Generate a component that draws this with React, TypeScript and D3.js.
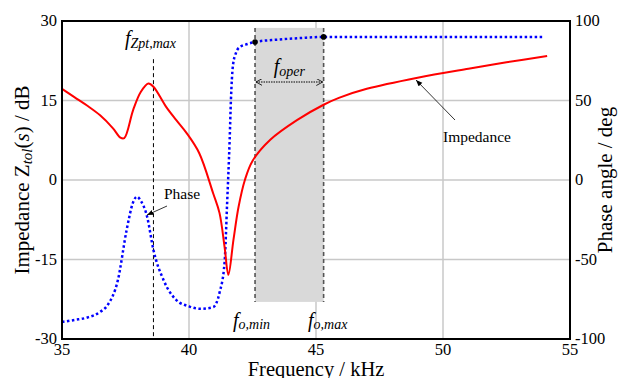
import React from "react";
import * as d3 from "d3";

const phaseFreq = [35, 35.5, 36, 36.5, 36.8, 37.2, 37.55, 37.8, 37.95, 38.1, 38.35, 38.6, 39.0, 39.5, 40.0, 40.43, 40.95, 41.2, 41.4, 41.5, 41.6, 41.65, 41.73, 41.85, 42.0, 42.3, 42.6, 43.5, 44.4, 45.3, 47, 50, 54];
const phaseDeg = [-89.3, -88, -86.5, -83, -78.6, -63, -31, -14, -10.5, -13, -23, -44, -63, -75.5, -79.5, -81, -80, -71, -52, -15, 25, 50, 72, 80, 83.6, 85.5, 86.8, 88.3, 89.3, 90, 90, 90, 90];

const impFreq = [35, 35.5, 36, 36.5, 37, 37.3, 37.45, 37.8, 38.1, 38.4, 38.6, 39.1, 39.5, 39.9, 40.4, 40.95, 41.2, 41.4, 41.55, 41.75, 41.95, 42.2, 42.5, 43.2, 44.25, 45.3, 45.9, 47, 49, 51, 52.5, 54.1];
const impDb = [17.2, 15.6, 14.0, 12.2, 9.8, 8.0, 7.9, 13.2, 16.6, 18.2, 17.6, 13.8, 11.3, 8.9, 5.1, -2.5, -6.2, -12.6, -17.9, -11.3, -5.1, 0, 3.6, 7.6, 11.3, 14.2, 15.5, 17.2, 19.3, 21.0, 22.2, 23.4];

const xTicks = [35, 40, 45, 50, 55];
const yLeftTicks = [30, 15, 0, -15, -30];
const yRightTicks = [100, 50, 0, -50, -100];

const fZptMax = 38.6;
const fOMin = 42.6;
const fOMax = 45.3;
const shadeTopDb = 28.7;
const shadeBottomDb = -23;
const fZptLineTopDb = 22.8;

const W = 623, H = 378;
const L = 62, R = 570, T = 21, B = 339;

export default function App() {
  const x = d3.scaleLinear().domain([35, 55]).range([L, R]);
  const yL = d3.scaleLinear().domain([-30, 30]).range([B, T]);
  const yR = d3.scaleLinear().domain([-100, 100]).range([B, T]);

  const impLine = d3.line<number>().x((_, i) => x(impFreq[i])).y((d) => yL(d)).curve(d3.curveCatmullRom.alpha(0.5))(impDb) || "";
  const phLine = d3.line<number>().x((_, i) => x(phaseFreq[i])).y((d) => yR(d)).curve(d3.curveMonotoneX)(phaseDeg) || "";

  const font = "'Liberation Serif', 'Times New Roman', serif";
  const phAt = (f: number) => {
    const i = phaseFreq.indexOf(f);
    return yR(phaseDeg[i]);
  };

  return (
    <svg width={W} height={H} style={{ position: "absolute", left: 0, top: 0, fontFamily: font }}>
      <defs>
        <marker id="tri" viewBox="0 0 10 10" refX="10" refY="5" markerWidth="8" markerHeight="8" orient="auto">
          <path d="M0,1 L10,5 L0,9 z" fill="#000" />
        </marker>
        <marker id="chev" viewBox="0 0 10 10" refX="9" refY="5" markerWidth="7" markerHeight="7" orient="auto-start-reverse">
          <path d="M0,0 L9,5 L0,10" fill="none" stroke="#000" strokeWidth="1.2" />
        </marker>
      </defs>
      <rect x={0} y={0} width={W} height={H} fill="#fff" />
      {xTicks.slice(1, -1).map((t) => (
        <line key={"gx" + t} x1={x(t)} x2={x(t)} y1={T} y2={B} stroke="#c8c8c8" strokeWidth={1.5} />
      ))}
      {yLeftTicks.slice(1, -1).map((t) => (
        <line key={"gy" + t} x1={L} x2={R} y1={yL(t)} y2={yL(t)} stroke="#c8c8c8" strokeWidth={1.5} />
      ))}
      <rect x={x(fOMin)} y={yL(shadeTopDb)} width={x(fOMax) - x(fOMin)} height={yL(shadeBottomDb) - yL(shadeTopDb)} fill="#d9d9d9" />
      <line x1={x(fOMin)} x2={x(fOMin)} y1={yL(shadeTopDb)} y2={yL(shadeBottomDb)} stroke="#555" strokeWidth={1.6} strokeDasharray="4,3" />
      <line x1={x(fOMax)} x2={x(fOMax)} y1={yL(shadeTopDb)} y2={yL(shadeBottomDb)} stroke="#555" strokeWidth={1.6} strokeDasharray="4,3" />
      <line x1={x(fZptMax)} x2={x(fZptMax)} y1={yL(fZptLineTopDb)} y2={B} stroke="#000" strokeWidth={1} strokeDasharray="4,3" />
      <path d={phLine} fill="none" stroke="#0000ff" strokeWidth={2.5} strokeDasharray="2.5,2.5" />
      <path d={impLine} fill="none" stroke="#ff0000" strokeWidth={2} />
      <circle cx={x(fOMin)} cy={phAt(fOMin)} r={2.8} fill="#000" />
      <circle cx={x(fOMax)} cy={phAt(fOMax)} r={2.8} fill="#000" />
      <line x1={x(fOMin) + 1} x2={x(fOMax) - 1} y1={82} y2={82} stroke="#000" strokeWidth={1} strokeDasharray="1.5,1" markerStart="url(#chev)" markerEnd="url(#chev)" />
      <text x={(x(fOMin) + x(fOMax)) / 2} y={73} textAnchor="middle" fontStyle="italic" fontSize={20}>
        f<tspan fontSize={14} dy={3}>oper</tspan>
      </text>
      <text x={233} y={327} fontStyle="italic" fontSize={20}>
        f<tspan fontSize={14} dy={2}>o,min</tspan>
      </text>
      <text x={308} y={327} fontStyle="italic" fontSize={20}>
        f<tspan fontSize={14} dy={2}>o,max</tspan>
      </text>
      <text x={125} y={45} fontStyle="italic" fontSize={20}>
        f<tspan fontSize={14} dy={3}>Zpt,max</tspan>
      </text>
      <line x1={167} y1={206} x2={147} y2={215} stroke="#000" strokeWidth={0.8} markerEnd="url(#tri)" />
      <text x={164} y={199} fontSize={15.5}>Phase</text>
      <line x1={455} y1={120} x2={416} y2={80} stroke="#000" strokeWidth={0.8} markerEnd="url(#tri)" />
      <text x={443} y={142} fontSize={15.5}>Impedance</text>
      <rect x={L} y={T} width={R - L} height={B - T} fill="none" stroke="#000" strokeWidth={2} />
      {yLeftTicks.map((t) => (
        <text key={"yl" + t} x={57} y={yL(t) + 5} textAnchor="end" fontSize={16.5}>{t}</text>
      ))}
      {yRightTicks.map((t) => (
        <text key={"yr" + t} x={575} y={yR(t) + 5} textAnchor="start" fontSize={16.5}>{t}</text>
      ))}
      {xTicks.map((t) => (
        <text key={"x" + t} x={x(t)} y={355} textAnchor="middle" fontSize={16.5}>{t}</text>
      ))}
      <text x={316} y={376} textAnchor="middle" fontSize={20.5}>Frequency / kHz</text>
      <text transform={`translate(29,${(T + B) / 2}) rotate(-90)`} textAnchor="middle" fontSize={21}>
        Impedance Z<tspan fontSize={15} fontStyle="italic" dy={3}>tol</tspan><tspan dy={-3}>(</tspan><tspan fontStyle="italic">s</tspan>) / dB
      </text>
      <text transform={`translate(612,${(T + B) / 2}) rotate(-90)`} textAnchor="middle" fontSize={21}>Phase angle / deg</text>
    </svg>
  );
}
